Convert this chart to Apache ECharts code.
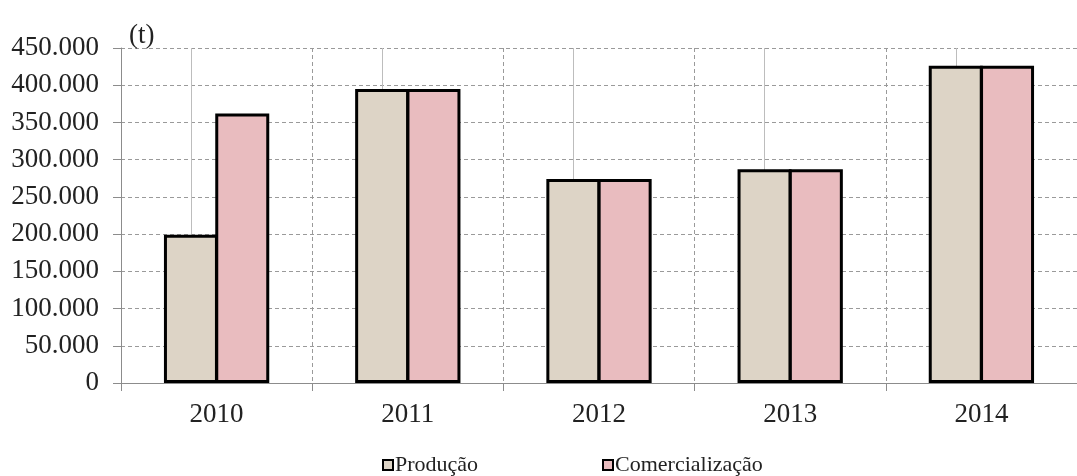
<!DOCTYPE html>
<html>
<head>
<meta charset="utf-8">
<script src="https://cdn.jsdelivr.net/npm/echarts@6/dist/echarts.min.js"></script>
<style>
html,body{margin:0;padding:0;background:#fff;}
#chart{width:1077px;height:476px;}
</style>
</head>
<body>
<div id="chart"></div>
<script>
var categories = ['2010', '2011', '2012', '2013', '2014'];
var producao = [199000, 395000, 274000, 287000, 426000];
var comercializacao = [362000, 395000, 274000, 287000, 426000];
var seriesNames = ['Produção', 'Comercialização'];
var unitLabel = '(t)';

var FONT = '"Liberation Serif", "Times New Roman", serif';
var chart = echarts.init(document.getElementById('chart'));

function fmt(v) {
  return String(v).replace(/\B(?=(\d{3})+(?!\d))/g, '.');
}

chart.setOption({
  animation: false,
  backgroundColor: '#ffffff',
  title: {
    text: unitLabel,
    left: 124,
    top: 17,
    textStyle: { fontFamily: FONT, fontSize: 27, fontWeight: 'normal', color: '#222' }
  },
  legend: [
    {
      data: [seriesNames[0]],
      left: 377, top: 449,
      itemWidth: 10, itemHeight: 10,
      icon: 'rect',
      itemStyle: { borderColor: '#000', borderWidth: 2 },
      textStyle: { fontFamily: FONT, fontSize: 22, color: '#222', padding: [0, 0, 0, -3] }
    },
    {
      data: [seriesNames[1]],
      left: 597, top: 449,
      itemWidth: 10, itemHeight: 10,
      icon: 'rect',
      itemStyle: { borderColor: '#000', borderWidth: 2 },
      textStyle: { fontFamily: FONT, fontSize: 22, color: '#222', padding: [0, 0, 0, -3] }
    }
  ],
  grid: { left: 121, right: -13, top: 48, bottom: 93, containLabel: false },
  xAxis: {
    type: 'category',
    data: categories,
    boundaryGap: true,
    axisLine: { show: true, lineStyle: { color: '#8c8c8c', width: 1 } },
    axisTick: { show: true, length: 8, lineStyle: { color: '#8c8c8c' } },
    axisLabel: { fontFamily: FONT, fontSize: 27, color: '#222', margin: 18 },
    splitLine: { show: true, lineStyle: { color: '#9a9a9a', type: [4, 3], width: 1 } }
  },
  yAxis: {
    type: 'value',
    min: 0, max: 450000, interval: 50000,
    axisLine: { show: true, lineStyle: { color: '#8c8c8c', width: 1 } },
    axisTick: { show: true, length: 8, lineStyle: { color: '#8c8c8c' } },
    axisLabel: { fontFamily: FONT, fontSize: 27, color: '#222', margin: 22, formatter: fmt },
    splitLine: { show: true, lineStyle: { color: '#9a9a9a', type: [4, 3], width: 1 } }
  },
  series: [
    {
      name: seriesNames[0],
      type: 'bar',
      data: producao,
      barWidth: 54,
      barGap: '-5%',
      z: 3,
      itemStyle: { color: '#ddd4c6', borderColor: '#000', borderWidth: 3 },
      markLine: {
        z: 1,
        silent: true,
        symbol: 'none',
        label: { show: false },
        lineStyle: { color: '#bdbdbd', type: 'solid', width: 1 },
        data: categories.map(function (c) { return { xAxis: c }; })
      }
    },
    {
      name: seriesNames[1],
      type: 'bar',
      data: comercializacao,
      barWidth: 54,
      barGap: '-5%',
      z: 3,
      itemStyle: { color: '#e9bcbf', borderColor: '#000', borderWidth: 3 }
    }
  ]
});
</script>
</body>
</html>
